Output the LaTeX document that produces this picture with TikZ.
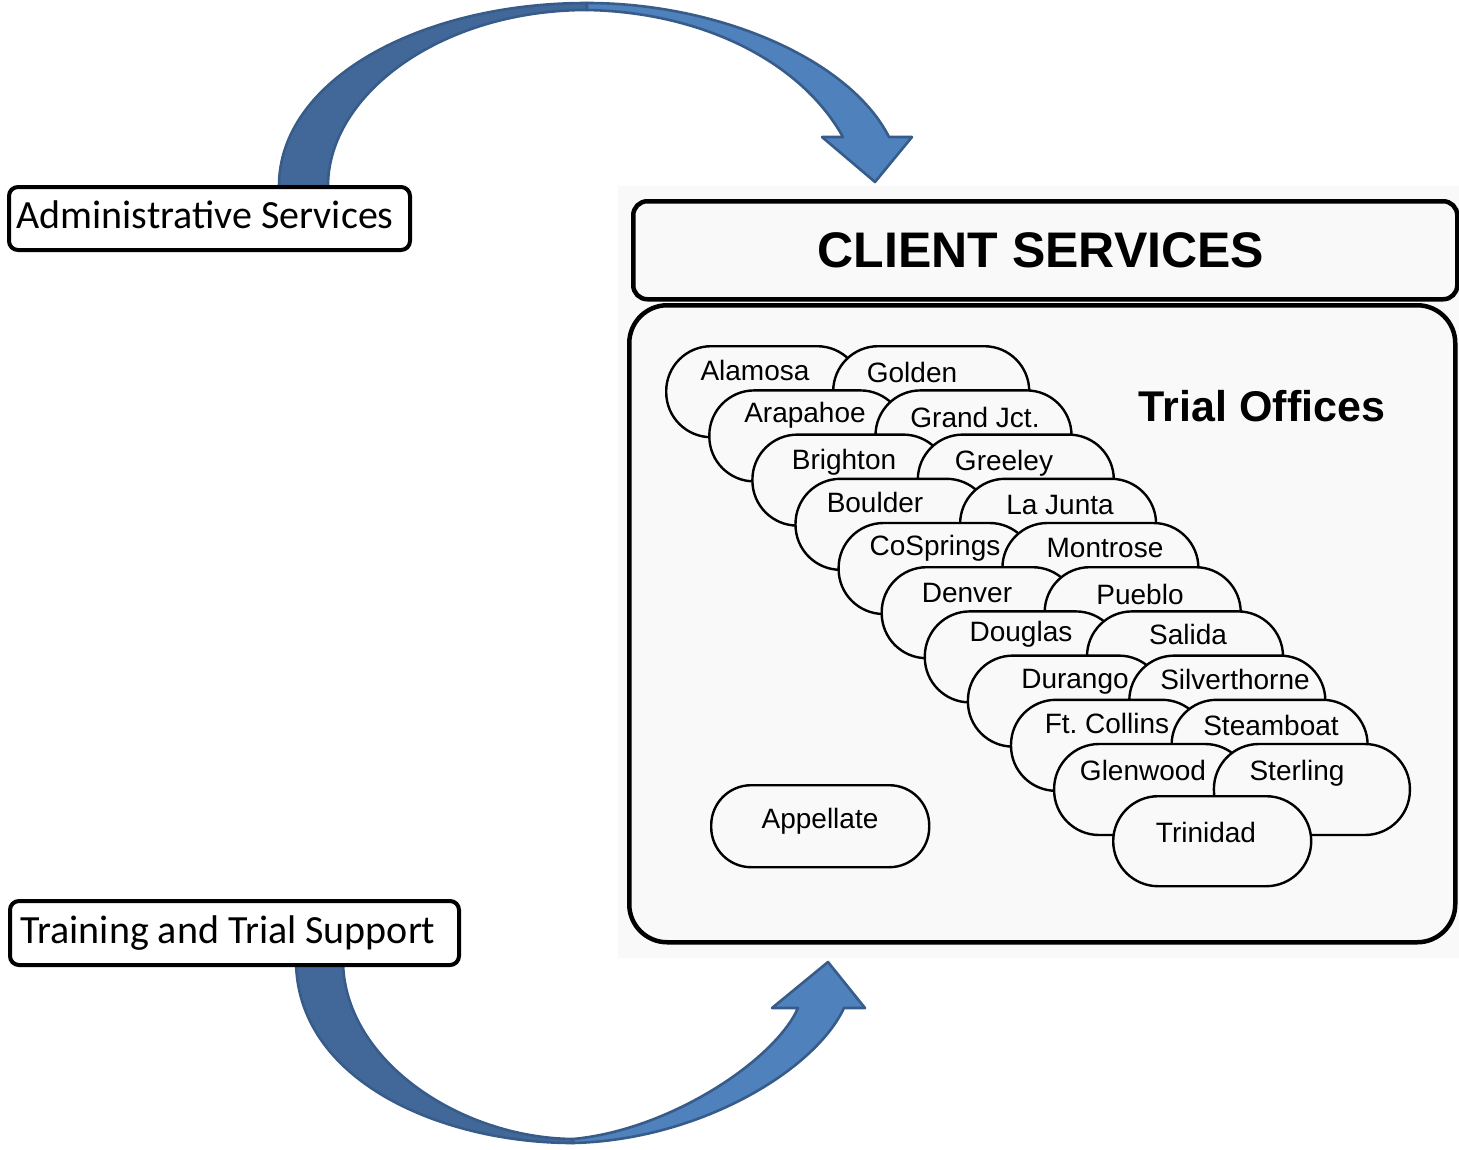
\documentclass[tikz,border=0pt]{standalone}
\usepackage{fontspec}
\setmainfont{Liberation Sans}
\newfontfamily\calibrifont{Carlito}
\definecolor{scanbg}{RGB}{249,249,249}
\definecolor{arrowdark}{RGB}{65,104,153}
\definecolor{arrowlight}{RGB}{79,129,189}
\definecolor{arrowedge}{RGB}{56,92,138}
\frenchspacing
\begin{document}
\begin{tikzpicture}[x=1pt,y=-1pt,
  pill/.style={rectangle, draw=black, line width=2.4pt, fill=scanbg, rounded corners=45pt,
    inner sep=0pt, minimum width=196pt, minimum height=91pt, anchor=north west},
  lbl/.style={anchor=base, inner sep=0pt, font=\fontsize{28}{30}\selectfont},
  sidebox/.style={rectangle, draw=black, line width=4pt, fill=white, rounded corners=9pt,
    inner sep=0pt, anchor=north west},
  sidetxt/.style={anchor=base, inner sep=0pt, font=\calibrifont\fontsize{40}{44}\selectfont},
  band/.style={draw=arrowedge, line width=2.6pt, line join=round}]
\useasboundingbox (0,0) rectangle (1459,1149);
% scanned area background
\fill[scanbg] (618,186) rectangle (1459,958);
% body and header
\node[rectangle, draw=black, line width=4.5pt, fill=scanbg, rounded corners=38pt, inner sep=0pt,
  anchor=north west, minimum width=826pt, minimum height=637pt] (body) at (627,303) {};
\node[rectangle, draw=black, line width=4.5pt, fill=scanbg, rounded corners=14pt, inner sep=0pt,
  anchor=north west, minimum width=824pt, minimum height=98pt] (header) at (631,199) {};
\node[anchor=base, inner sep=0pt, font=\bfseries\fontsize{50}{54}\selectfont] (cs) at (1041,267) {CLIENT SERVICES};
\node[anchor=base, inner sep=0pt, font=\bfseries\fontsize{43}{46}\selectfont] (trial) at (1262,421) {Trial Offices};
% stacked offices
\foreach \i/\a/\b in {0/alamosa/golden,1/arapahoe/grandjct,2/brighton/greeley,3/boulder/lajunta,
  4/cosprings/montrose,5/denver/pueblo,6/douglas/salida,7/durango/silverthorne,
  8/ftcollins/steamboat,9/glenwood/sterling}{
  \node[pill] (\a) at ({665+43.1*\i},{345+44.2*\i}) {};
  \node[pill] (\b) at ({832+42.3*\i},{345+44.2*\i}) {};
}
\node[pill, minimum width=198pt, minimum height=90pt] (trinidad) at (1112,795) {};
\node[pill, minimum width=218pt, minimum height=82pt, rounded corners=40pt] (appellate) at (710,784) {};
% labels
\node[lbl] (t-alamosa) at (755,380) {Alamosa};
\node[lbl] (t-golden) at (912,382) {Golden};
\node[lbl] (t-arapahoe) at (805,422) {Arapahoe};
\node[lbl] (t-grandjct) at (975,427) {Grand Jct.};
\node[lbl] (t-brighton) at (844,469) {Brighton};
\node[lbl] (t-greeley) at (1004,470) {Greeley};
\node[lbl] (t-boulder) at (875,512) {Boulder};
\node[lbl] (t-lajunta) at (1060,514) {La Junta};
\node[lbl] (t-cosprings) at (935,555) {CoSprings};
\node[lbl] (t-montrose) at (1105,557) {Montrose};
\node[lbl] (t-denver) at (967,602) {Denver};
\node[lbl] (t-pueblo) at (1140,604) {Pueblo};
\node[lbl] (t-douglas) at (1021,641) {Douglas};
\node[lbl] (t-salida) at (1188,644) {Salida};
\node[lbl] (t-durango) at (1075,688) {Durango};
\node[lbl] (t-silverthorne) at (1235,689) {Silverthorne};
\node[lbl] (t-ftcollins) at (1107,733) {Ft. Collins};
\node[lbl] (t-steamboat) at (1271,735) {Steamboat};
\node[lbl] (t-glenwood) at (1143,780) {Glenwood};
\node[lbl] (t-sterling) at (1297,780) {Sterling};
\node[lbl] (t-trinidad) at (1206,842) {Trinidad};
\node[lbl] (t-appellate) at (820,828) {Appellate};
% top curved arrow
\filldraw[band, fill=arrowdark] (279,186) .. controls (279,80) and (420,3) .. (587,3)
  -- (587,10) .. controls (440,10) and (328,95) .. (328,186) -- cycle;
\filldraw[band, fill=arrowlight] (587,3) .. controls (720,3) and (850,60) .. (889,137)
  -- (912,137) -- (875,182) -- (822,137) -- (843,137)
  .. controls (800,60) and (700,12) .. (587,10) -- cycle;
% bottom curved arrow
\filldraw[band, fill=arrowdark] (296,960) .. controls (296,1080) and (440,1143) .. (573,1143)
  -- (573,1139) .. controls (460,1138) and (343,1060) .. (343,960) -- cycle;
\filldraw[band, fill=arrowlight] (573,1143) .. controls (700,1140) and (815,1070) .. (844,1008)
  -- (865,1008) -- (828,962) -- (772,1008) -- (798,1008)
  .. controls (775,1060) and (670,1130) .. (573,1139) -- cycle;
% side boxes
\node[sidebox, minimum width=401pt, minimum height=63pt] (admin) at (7,185) {};
\node[sidetxt] (admin-t) at (205,228) {Administrative Services};
\node[sidebox, minimum width=449pt, minimum height=64pt] (training) at (8,899) {};
\node[sidetxt] (training-t) at (228,943) {Training and Trial Support};
\end{tikzpicture}
\end{document}
